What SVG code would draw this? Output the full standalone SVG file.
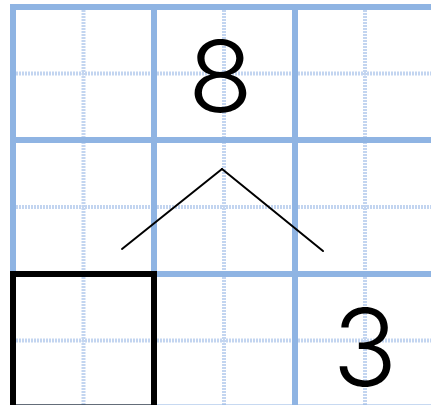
<svg xmlns="http://www.w3.org/2000/svg" width="431" height="405" viewBox="0 0 431 405">
<style>
.dot{stroke:#c3d5f0;stroke-width:4;stroke-dasharray:2 1;fill:none}
.thick{stroke:#8fb4e3;stroke-width:6;fill:none}
.conn{stroke:#000;stroke-width:2;fill:none;stroke-linecap:round}
.num{font-family:Inter,"Liberation Sans",Arial,sans-serif;font-weight:300;fill:#000;text-anchor:middle}
</style>
<rect width="431" height="405" fill="#fff"/>
<g id="grid">
<g class="dot">
<line x1="83.5" y1="10" x2="83.5" y2="405"/>
<line x1="224" y1="10" x2="224" y2="405"/>
<line x1="365" y1="10" x2="365" y2="405"/>
<line x1="16" y1="73.5" x2="431" y2="73.5"/>
<line x1="16" y1="207" x2="431" y2="207"/>
<line x1="16" y1="340.5" x2="431" y2="340.5"/>
</g>
<g class="thick">
<line x1="13" y1="4" x2="13" y2="410"/>
<line x1="154" y1="4" x2="154" y2="410"/>
<line x1="295" y1="4" x2="295" y2="410"/>
<line x1="10" y1="7" x2="431" y2="7"/>
<line x1="10" y1="140" x2="431" y2="140"/>
<line x1="10" y1="274" x2="431" y2="274"/>
<line x1="10" y1="407.5" x2="431" y2="407.5"/>
</g>
</g>
<g id="node-8"><text class="num" x="0" y="0" font-size="99" transform="translate(220.5 112) scale(1.08 1)">8</text></g>
<g id="node-blank"><rect x="13" y="274" width="141" height="133.5" fill="none" stroke="#000" stroke-width="6"/></g>
<g id="node-3"><text class="num" x="365" y="386" font-size="107">3</text></g>
<g id="connectors">
<line class="conn" x1="122" y1="249" x2="222" y2="169"/>
<line class="conn" x1="222" y1="169" x2="323" y2="251"/>
</g>
</svg>
